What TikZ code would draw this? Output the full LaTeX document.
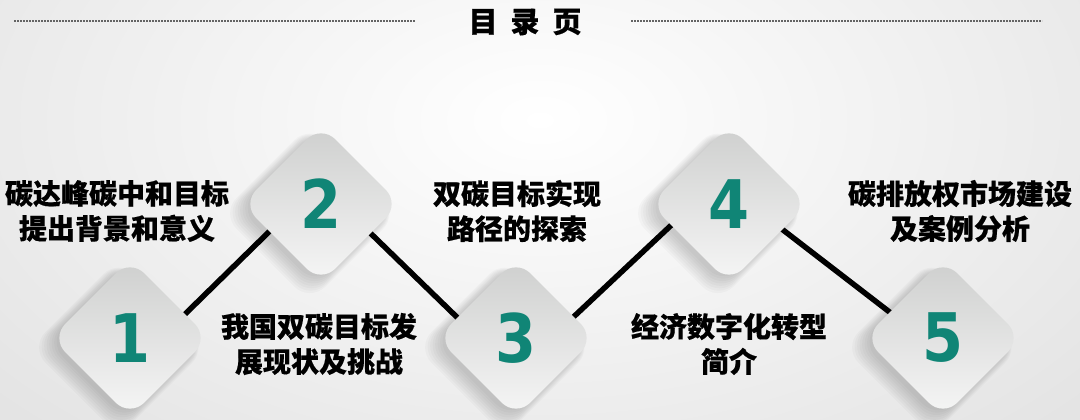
\documentclass[tikz,border=0pt]{standalone}
\usepackage{fontspec}
\newfontfamily\cjk{Noto Sans CJK SC}[BoldFeatures={FakeBold=0.5}]
\newfontfamily\numfont{DejaVu Sans}[BoldFeatures={FakeStretch=0.88}]
\usetikzlibrary{shapes.geometric,calc}
\definecolor{teal1}{RGB}{16,133,118}
\definecolor{dtop}{RGB}{206,207,206}
\definecolor{dbot}{RGB}{246,246,246}
\definecolor{bgout}{RGB}{228,228,228}
\definecolor{dashc}{RGB}{100,100,100}
\pgfdeclarelayer{bg}
\pgfdeclarelayer{shadow}
\pgfdeclarelayer{lines}
\pgfsetlayers{bg,shadow,lines,main}
\begin{document}
\begin{tikzpicture}[x=1pt,y=-1pt,
  dia/.style={diamond, aspect=1, minimum width=158pt, minimum height=158pt, inner sep=0pt,
    rounded corners=20pt, top color=dtop, bottom color=dbot, draw=none, text=teal1,
    font=\numfont\bfseries\fontsize{67}{67}\selectfont},
  conn/.style={line width=5.5pt, black},
  lbl/.style={align=center, font=\cjk\bfseries\fontsize{28}{35}\selectfont, inner sep=0pt},
  dashln/.style={dashc, line width=1.6pt, dash pattern=on 2pt off 1pt}]
\useasboundingbox (0,0) rectangle (1080,420);
\begin{pgfonlayer}{bg}
  \begin{scope}
    \clip (0,0) rectangle (1080,420);
    \fill[bgout] (0,0) rectangle (1080,420);
    \shade[inner color=white, outer color=bgout] (540,120) ellipse (720 and 430);
  \end{scope}
\end{pgfonlayer}

\coordinate (p1) at (130,338);
\coordinate (p2) at (321,204);
\coordinate (p3) at (516,338);
\coordinate (p4) at (729,204);
\coordinate (p5) at (943,338);

\begin{pgfonlayer}{shadow}
  \foreach \p in {p1,p2,p3,p4,p5} {
    \foreach \k in {1,...,8} {
      \pgfmathsetmacro\rr{76+1.6*\k}
      \begin{scope}[shift={($(\p)+(-4-0.9*\k,3+0.8*\k)$)}]
        \fill[black, opacity=0.025, rounded corners=22pt]
          (0,-\rr) -- (\rr,0) -- (0,\rr) -- (-\rr,0) -- cycle;
      \end{scope}
    }
  }
\end{pgfonlayer}

\node[dia] (d1) at (p1) {1};
\node[dia] (d2) at (p2) {2};
\node[dia] (d3) at (p3) {3};
\node[dia] (d4) at (p4) {4};
\node[dia] (d5) at (p5) {5};

\begin{pgfonlayer}{lines}
  \draw[conn] ($(d1.center)+(48,-17)$) -- ($(d2.center)+(-44,20)$);
  \draw[conn] ($(d2.center)+(40,20)$) -- ($(d3.center)+(-50,-12)$);
  \draw[conn] ($(d3.center)+(50,-14)$) -- ($(d4.center)+(-48,12)$);
  \draw[conn] ($(d4.center)+(45,19)$) -- ($(d5.center)+(-47,-21)$);
\end{pgfonlayer}

\node[lbl] (t1) at (117,211) {碳达峰碳中和目标\\提出背景和意义};
\node[lbl] (t2) at (319,344) {我国双碳目标发\\展现状及挑战};
\node[lbl] (t3) at (517,211) {双碳目标实现\\路径的探索};
\node[lbl] (t4) at (729,344) {经济数字化转型\\简介};
\node[lbl] (t5) at (960,211) {碳排放权市场建设\\及案例分析};

\node[font=\cjk\bfseries\fontsize{29}{29}\selectfont, inner sep=0pt] (title) at (525,22)
  {目\hspace{13pt}录\hspace{13pt}页};
\coordinate (la) at (14,21);
\coordinate (lb) at (415,21);
\coordinate (ra) at (631,21);
\coordinate (rb) at (1042,21);
\draw[dashln] (la) -- (lb);
\draw[dashln] (ra) -- (rb);
\end{tikzpicture}
\end{document}
